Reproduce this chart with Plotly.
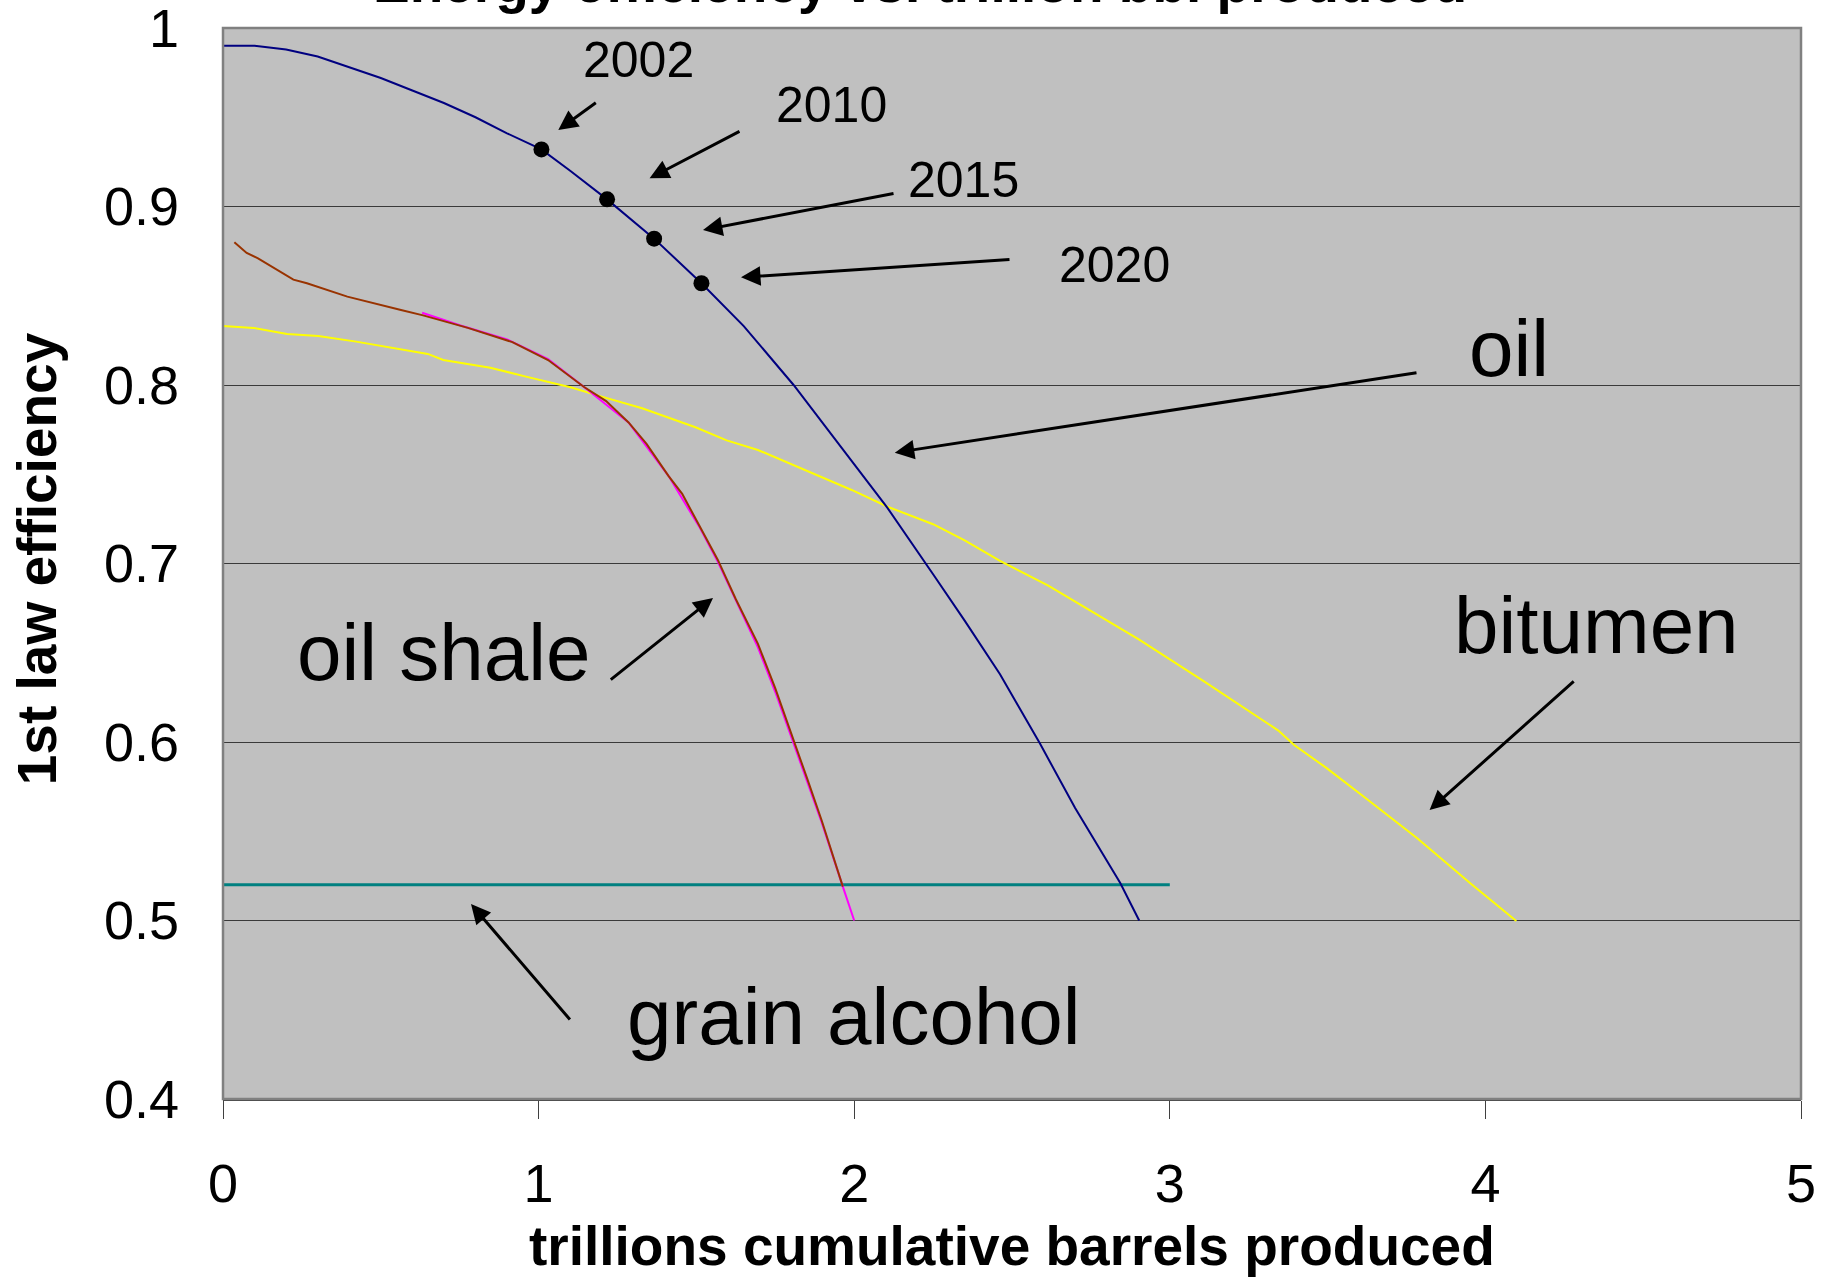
import plotly.graph_objects as go

# ---------------- data ----------------
oil_x = [0, 0.1, 0.2, 0.3, 0.4, 0.5, 0.6, 0.7, 0.8, 0.9, 1.009, 1.1, 1.217, 1.366, 1.516,
         1.65, 1.808, 1.95, 2.106, 2.25, 2.35, 2.462, 2.589, 2.7, 2.843, 2.903]
oil_y = [0.990, 0.990, 0.988, 0.984, 0.978, 0.972, 0.965, 0.958, 0.950, 0.941, 0.932, 0.920,
         0.904, 0.882, 0.857, 0.833, 0.800, 0.767, 0.731, 0.694, 0.668, 0.638, 0.599, 0.563,
         0.521, 0.500]

shale_x = [0.036, 0.075, 0.111, 0.138, 0.223, 0.266, 0.394, 0.564, 0.634, 0.776, 0.917, 1.030,
           1.143, 1.214, 1.285, 1.342, 1.412, 1.455, 1.511, 1.568, 1.625, 1.695, 1.75, 1.807,
           1.85, 1.897, 1.964]
shale_y = [0.880, 0.874, 0.871, 0.868, 0.859, 0.857, 0.8495, 0.842, 0.839, 0.832, 0.824, 0.814,
           0.799, 0.791, 0.779, 0.767, 0.749, 0.739, 0.721, 0.702, 0.680, 0.655, 0.630, 0.602,
           0.580, 0.556, 0.519]

shale_fit_x = [0.631, 0.75, 0.9, 1.03, 1.143, 1.285, 1.412, 1.511, 1.568, 1.625, 1.695, 1.75,
               1.807, 1.85, 1.897, 1.964, 2.0]
shale_fit_y = [0.8405, 0.8335, 0.8255, 0.8145, 0.799, 0.779, 0.749, 0.720, 0.701, 0.679, 0.653,
               0.628, 0.600, 0.578, 0.555, 0.519, 0.500]

bitumen_x = [0, 0.097, 0.203, 0.302, 0.422, 0.536, 0.649, 0.698, 0.847, 0.960, 1.101, 1.200,
             1.328, 1.497, 1.596, 1.695, 1.808, 1.992, 2.106, 2.25, 2.35, 2.462, 2.615, 2.903,
             3.106, 3.344, 3.394, 3.496, 3.615, 3.784, 3.954, 4.098]
bitumen_y = [0.833, 0.832, 0.8286, 0.8275, 0.8243, 0.821, 0.8174, 0.814, 0.8097, 0.8047, 0.7987,
             0.7935, 0.787, 0.7763, 0.769, 0.7636, 0.7552, 0.7412, 0.7318, 0.722, 0.713, 0.7015,
             0.6876, 0.6574, 0.6342, 0.6064, 0.5983, 0.5855, 0.5693, 0.5461, 0.5206, 0.4997]

grain_x = [0, 3]
grain_y = [0.52, 0.52]

year_labels = ["2002", "2010", "2015", "2020"]
year_x = [1.009, 1.217, 1.366, 1.516]
year_y = [0.932, 0.904, 0.882, 0.857]
year_text_x = [1.316, 1.928, 2.345, 2.824]
year_text_y = [0.9818, 0.9571, 0.9148, 0.8675]
year_arrow_tail_x = [1.186, 1.6413, 2.1293, 2.4968]
year_arrow_tail_y = [0.9587, 0.9425, 0.9074, 0.8704]
year_arrow_head_x = [1.0624, 1.3517, 1.5209, 1.6413]
year_arrow_head_y = [0.9429, 0.9158, 0.8868, 0.8603]

series_labels = ["oil", "bitumen", "oil shale", "grain alcohol"]
label_x = [4.076, 4.352, 0.701, 2.0]
label_y = [0.8203, 0.665, 0.6504, 0.4465]
label_tail_x = [3.7864, 4.2845, 1.224, 1.1033]
label_tail_y = [0.807, 0.6347, 0.6343, 0.4437]
label_head_x = [2.1286, 3.8232, 1.5526, 0.7858]
label_head_y = [0.7621, 0.5619, 0.6807, 0.5092]

x_ticks = [0, 1, 2, 3, 4, 5]
y_ticks = [0.4, 0.5, 0.6, 0.7, 0.8, 0.9, 1.0]
y_tick_text = ["0.4", "0.5", "0.6", "0.7", "0.8", "0.9", "1"]

title_text = "Energy efficiency vs. trillion bbl produced"
x_title = "trillions cumulative barrels produced"
y_title = "1st law efficiency"

FONT = "Liberation Sans, Arial, sans-serif"

fig = go.Figure()
fig.add_trace(go.Scatter(x=grain_x, y=grain_y, mode="lines",
                         line=dict(color="#008080", width=3), showlegend=False))
fig.add_trace(go.Scatter(x=bitumen_x, y=bitumen_y, mode="lines",
                         line=dict(color="#FFFF00", width=2), showlegend=False))
fig.add_trace(go.Scatter(x=shale_fit_x, y=shale_fit_y, mode="lines",
                         line=dict(color="#FF00FF", width=2), showlegend=False))
fig.add_trace(go.Scatter(x=shale_x, y=shale_y, mode="lines",
                         line=dict(color="#993300", width=2), showlegend=False))
fig.add_trace(go.Scatter(x=oil_x, y=oil_y, mode="lines",
                         line=dict(color="#000080", width=2), showlegend=False))
fig.add_trace(go.Scatter(x=year_x, y=year_y, mode="markers",
                         marker=dict(color="black", size=16), showlegend=False))

annotations = []
for t, x, y in zip(year_labels, year_text_x, year_text_y):
    annotations.append(dict(x=x, y=y, xref="x", yref="y", text=t, showarrow=False,
                            xanchor="center", yanchor="middle",
                            font=dict(family=FONT, size=50, color="black")))
for hx, hy, tx, ty in zip(year_arrow_head_x, year_arrow_head_y, year_arrow_tail_x, year_arrow_tail_y):
    annotations.append(dict(x=hx, y=hy, ax=tx, ay=ty, xref="x", yref="y", axref="x", ayref="y",
                            text="", showarrow=True, arrowhead=2, arrowsize=1.3, arrowwidth=3,
                            arrowcolor="black", standoff=0, startstandoff=0))
for t, x, y in zip(series_labels, label_x, label_y):
    annotations.append(dict(x=x, y=y, xref="x", yref="y", text=t, showarrow=False,
                            xanchor="center", yanchor="middle",
                            font=dict(family=FONT, size=80, color="black")))
for hx, hy, tx, ty in zip(label_head_x, label_head_y, label_tail_x, label_tail_y):
    annotations.append(dict(x=hx, y=hy, ax=tx, ay=ty, xref="x", yref="y", axref="x", ayref="y",
                            text="", showarrow=True, arrowhead=2, arrowsize=1.3, arrowwidth=3,
                            arrowcolor="black", standoff=0, startstandoff=0))

# title (clipped at top of page, as in the original) and axis titles
annotations.append(dict(x=0.5, y=1, xref="paper", yref="paper", xshift=919.5 - 1012,
                        yshift=45.5, text="<b>" + title_text + "</b>", showarrow=False,
                        xanchor="center", yanchor="middle",
                        font=dict(family=FONT, size=55, color="black")))
annotations.append(dict(x=0.5, y=0, xref="paper", yref="paper", yshift=-146.5,
                        text="<b>" + x_title + "</b>", showarrow=False,
                        xanchor="center", yanchor="middle",
                        font=dict(family=FONT, size=55, color="black")))
annotations.append(dict(x=0, y=0.504, xref="paper", yref="paper", xshift=-186,
                        text="<b>" + y_title + "</b>", showarrow=False, textangle=-90,
                        xanchor="center", yanchor="middle",
                        font=dict(family=FONT, size=55, color="black")))

fig.update_layout(
    width=1839, height=1283,
    margin=dict(l=223, r=38, t=28, b=184, autoexpand=False),
    paper_bgcolor="white", plot_bgcolor="#C0C0C0",
    annotations=annotations,
    shapes=[dict(type="rect", xref="paper", yref="paper", x0=0, y0=0, x1=1, y1=1,
                 line=dict(color="#808080", width=2.5), layer="above")],
)
fig.update_xaxes(range=[0, 5], tickvals=x_ticks, ticks="outside", ticklen=18, tickwidth=1,
                 tickcolor="#404040", showgrid=False, zeroline=False, showline=True,
                 linecolor="#404040", linewidth=2, ticklabelstandoff=18,
                 tickfont=dict(family=FONT, size=54, color="black"))
fig.update_yaxes(range=[0.4, 1.0], tickvals=y_ticks, ticktext=y_tick_text, ticks="",
                 showgrid=True, gridcolor="#3a3a3a", gridwidth=1, zeroline=False,
                 showline=False, ticklabelstandoff=43, ticklabeloverflow="allow",
                 tickfont=dict(family=FONT, size=54, color="black"))

fig.write_html("out.html", config={"displayModeBar": False},
               post_script="document.body.style.margin='0';document.body.style.overflow='hidden';")
